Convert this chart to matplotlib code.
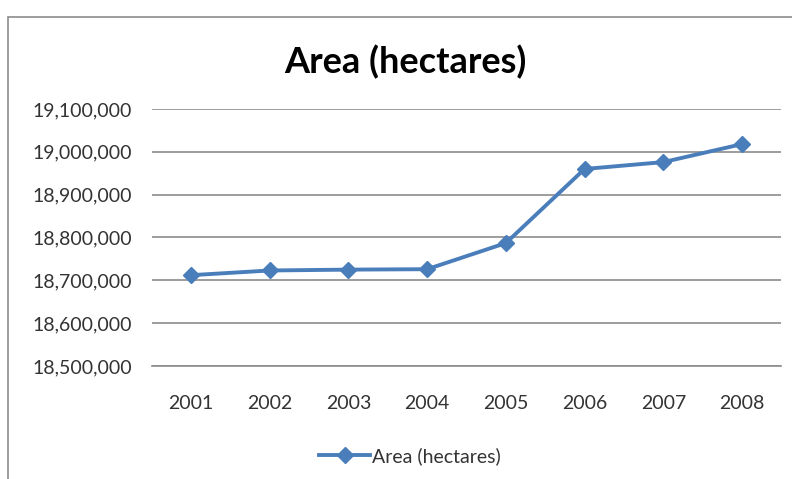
import matplotlib
matplotlib.use("Agg")
import matplotlib.pyplot as plt
from matplotlib.ticker import FuncFormatter
from matplotlib.patches import Rectangle

years = ["2001", "2002", "2003", "2004", "2005", "2006", "2007", "2008"]
area = [18712000, 18723000, 18725000, 18726000, 18787000, 18960000, 18976000, 19018000]
yticks = [18500000, 18600000, 18700000, 18800000, 18900000, 19000000, 19100000]

plt.rcParams['font.family'] = ['Lato', 'DejaVu Sans']
blue = '#4a7ebb'

fig = plt.figure(figsize=(7.92, 4.79), dpi=100)
W, H = 792, 479
ax = fig.add_axes([151.6 / W, 1 - 366 / H, (781.4 - 151.6) / W, (366 - 109) / H])

x = list(range(len(years)))
ax.plot(x, area, color=blue, lw=2.8, marker='D', ms=8, label='Area (hectares)')

ax.set_xlim(-0.5, len(years) - 0.5)
ax.set_ylim(yticks[0], yticks[-1])
ax.set_yticks(yticks)
ax.yaxis.set_major_formatter(FuncFormatter(lambda v, p: f"{int(v):,}"))
ax.set_xticks(x)
ax.set_xticklabels(years)
ax.grid(axis='y', color='#8c8c8c', lw=1.2)
ax.set_axisbelow(True)
for s in ['top', 'right', 'left']:
    ax.spines[s].set_visible(False)
ax.spines['bottom'].set_color('#8c8c8c')
ax.spines['bottom'].set_linewidth(1.2)
ax.tick_params(length=0, labelsize=14, colors='#333333', pad=14)
ax.tick_params(axis='x', pad=21)

fig.text(405 / W, 1 - 62 / H, 'Area (hectares)', ha='center', va='center',
         fontsize=26, fontweight='bold')

fig.legend(loc='center', bbox_to_anchor=(410 / W, 1 - 456 / H), frameon=False,
           fontsize=14, handlelength=2.6, handletextpad=0.1, labelcolor='#333333')

fig.patches.append(Rectangle((8 / W, -0.1), 1.2, 1 - 17 / H + 0.1, transform=fig.transFigure,
                             fill=False, edgecolor='#8c8c8c', lw=1.2))

fig.savefig('out.png', dpi=100)
